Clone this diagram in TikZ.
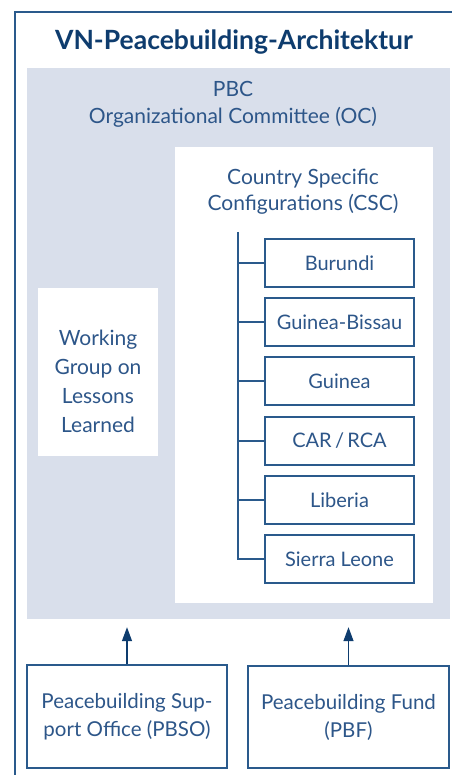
\documentclass[tikz,border=0pt]{standalone}
\usepackage{fontspec}
\setmainfont{Lato}
\usetikzlibrary{arrows.meta}
\definecolor{navy}{HTML}{0E3C6E}
\definecolor{txtblue}{HTML}{2D5689}
\definecolor{linblue}{HTML}{2A5A8C}
\definecolor{lightbg}{HTML}{D9DFEB}
\tikzset{
  lbl/.style={text=txtblue, font=\fontsize{21}{28}\selectfont, align=center, inner sep=0pt},
  wbox/.style={fill=white, draw=none, inner sep=0pt},
  cbox/.style={draw=linblue, line width=1.3pt, fill=white, minimum width=149pt, minimum height=48pt, inner sep=0pt, text=txtblue, font=\fontsize{20}{24}\selectfont},
  bbox/.style={draw=linblue, line width=1.3pt, fill=white, inner sep=0pt, text=txtblue, font=\fontsize{20.5}{28}\selectfont, align=center},
  conn/.style={draw=linblue, line width=1.3pt},
  arr/.style={draw=navy, line width=1.3pt, -{Triangle[length=14pt,width=10pt]}}
}
\begin{document}
\begin{tikzpicture}[x=1pt,y=-1pt]
\useasboundingbox (0,0) rectangle (452,775);
\fill[white] (0,0) rectangle (452,775);
% outer frame
\coordinate (fbl) at (15,775);
\coordinate (ftl) at (15,12);
\coordinate (ftr) at (452,12);
\draw[draw=linblue, line width=1.5pt] (fbl) -- (ftl) -- (ftr);
% title
\node[text=navy, font=\fontsize{26.5}{30}\bfseries\selectfont, inner sep=0pt] (title) at (234,42) {VN-Peacebuilding-Architektur};
% PBC background
\node[fill=lightbg, draw=none, minimum width=423pt, minimum height=551pt, inner sep=0pt] (pbc) at (238.5,343.5) {};
\node[lbl, anchor=base] (pbct1) at (233,97) {PBC};
\node[lbl, anchor=base] (pbct2) at (233,124) {Organizational Committee (OC)};
% CSC white box
\node[wbox, minimum width=258pt, minimum height=456pt] (csc) at (304,375) {};
\node[lbl, anchor=base] (csct1) at (303,185) {Country Specific};
\node[lbl, anchor=base] (csct2) at (303,211) {Configurations (CSC)};
% Working group box
\node[wbox, minimum width=120pt, minimum height=168pt] (wg) at (98,371.5) {};
\node[lbl, font=\fontsize{21}{29}\selectfont] (wgt) at (98,381) {Working\\Group on\\Lessons\\Learned};
% country boxes
\node[cbox] (c1) at (339.5,263) {Burundi};
\node[cbox] (c2) at (339.5,322) {Guinea-Bissau};
\node[cbox] (c3) at (339.5,381) {Guinea};
\node[cbox] (c4) at (339.5,441) {CAR\,/\,RCA};
\node[cbox] (c5) at (339.5,500) {Liberia};
\node[cbox] (c6) at (339.5,559) {Sierra Leone};
% trunk
\coordinate (trtop) at (238,232);
\draw[conn] (trtop) |- (c6.west);
\foreach \i in {1,...,5} { \draw[conn] (trtop |- c\i.west) -- (c\i.west); }
% bottom boxes
\node[bbox, minimum width=200pt, minimum height=103pt] (pbso) at (127,716.5) {Peacebuilding Sup-\\port Office (PBSO)};
\node[bbox, minimum width=201pt, minimum height=102pt] (pbf) at (348.5,717) {Peacebuilding Fund\\(PBF)};
% arrows
\draw[arr, shorten >=8pt] (pbso.north) -- (pbso.north |- pbc.south);
\draw[arr, shorten >=8pt] (pbf.north) -- (pbf.north |- pbc.south);
\end{tikzpicture}
\end{document}
